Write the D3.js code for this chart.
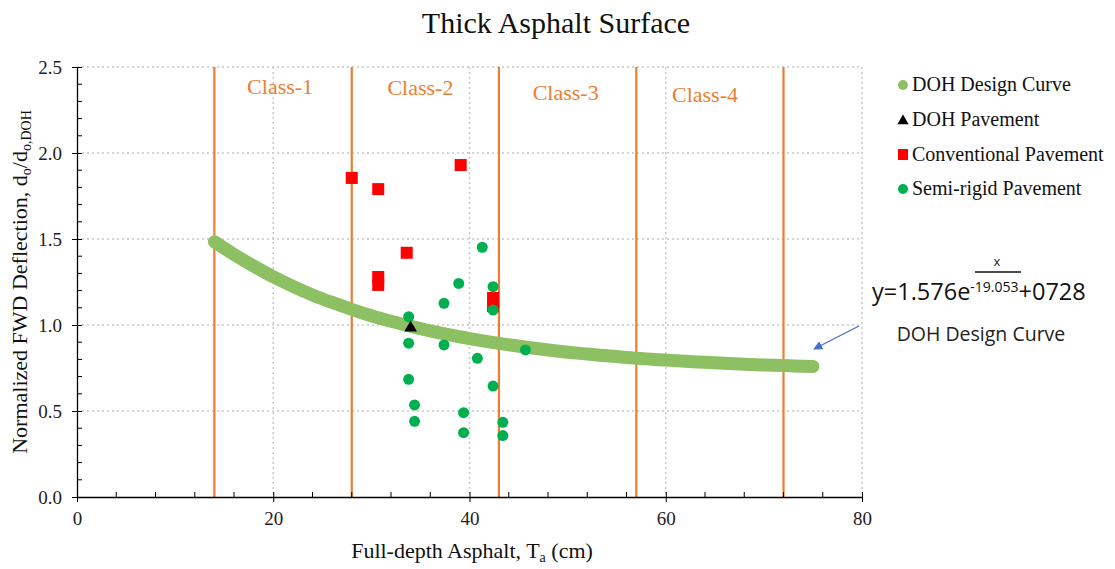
<!DOCTYPE html>
<html><head><meta charset="utf-8">
<script src="https://cdn.jsdelivr.net/npm/d3@7"></script>
<style>body{margin:0;background:#fff}svg{display:block}</style>
</head><body>
<svg id="c" width="1115" height="569"></svg>
<script>
// ---- data ----
const curveX = [14,16,18,20,22,24,26,28,30,32,34,36,38,40,42,44,46,48,50,52,54,56,58,60,62,64,66,68,70,72,74,75];
const curveY = [1.484,1.410,1.343,1.280,1.225,1.175,1.131,1.091,1.054,1.022,0.993,0.966,0.942,0.921,0.902,0.885,0.869,0.855,0.842,0.831,0.821,0.811,0.803,0.796,0.789,0.783,0.777,0.772,0.768,0.764,0.760,0.759];
const dohX = [34.0];
const dohY = [0.99];
const convX = [28.0,30.7,39.1,33.6,30.7,30.7,42.4,42.4];
const convY = [1.855,1.79,1.93,1.42,1.279,1.233,1.157,1.11];
const semiX = [41.3,38.9,42.4,37.4,42.4,33.8,33.8,37.4,40.8,45.7,33.8,42.4,34.4,34.4,39.4,39.4,43.4,43.4];
const semiY = [1.452,1.242,1.223,1.126,1.087,1.048,0.894,0.884,0.806,0.855,0.684,0.645,0.535,0.44,0.49,0.374,0.434,0.357];
const classBounds = [14,28,43,57,72];
const classNames = ["Class-1","Class-2","Class-3","Class-4"];
const classLabelX = [20.7,35.0,49.8,64.0];
const classLabelY = [2.343,2.337,2.308,2.297];
const xTicks = [0,20,40,60,80];
const yTicks = [0,0.5,1.0,1.5,2.0,2.5];
const legendNames = ["DOH Design Curve","DOH Pavement","Conventional Pavement","Semi-rigid Pavement"];

// ---- layout ----
const svg = d3.select("#c");
const L=77,R=862,T=67,B=497;
const x = d3.scaleLinear().domain([0,80]).range([L,R]);
const y = d3.scaleLinear().domain([0,2.5]).range([B,T]);
const serif = "'Liberation Serif','Times New Roman',serif";
const orange="#ED7D31", grid="#C8C8C8", curveCol="#8DC063", semiCol="#00B050";

svg.append("text").attr("x",556).attr("y",33).attr("text-anchor","middle")
  .style("font-family",serif).attr("font-size",30).attr("fill","#111").text("Thick Asphalt Surface");

// grid
const g = svg.append("g");
g.selectAll(".gy").data(yTicks.filter(d=>d>0)).join("line")
  .attr("x1",L).attr("x2",R).attr("y1",d=>y(d)).attr("y2",d=>y(d))
  .attr("stroke",grid).attr("stroke-width",1.5).attr("stroke-dasharray","2,3");
g.selectAll(".gx").data(xTicks.filter(d=>d>0)).join("line")
  .attr("y1",T).attr("y2",B).attr("x1",d=>x(d)).attr("x2",d=>x(d))
  .attr("stroke",grid).attr("stroke-width",1.5).attr("stroke-dasharray","2,3");

// class boundaries
g.selectAll(".cb").data(classBounds).join("line")
  .attr("x1",d=>x(d)).attr("x2",d=>x(d)).attr("y1",y(2.5)).attr("y2",y(0))
  .attr("stroke",orange).attr("stroke-width",2.2);
g.selectAll(".cl").data(classNames).join("text")
  .attr("x",(d,i)=>x(classLabelX[i])).attr("y",(d,i)=>y(classLabelY[i]))
  .attr("text-anchor","middle").style("font-family",serif).attr("font-size",22).attr("fill",orange).text(d=>d);

// axes
const xAxis = d3.axisBottom(x).tickValues(xTicks).tickSizeInner(5).tickSizeOuter(0).tickPadding(10);
const xa = svg.append("g").attr("transform",`translate(0,${B})`).call(xAxis);
xa.selectAll(".tick line").attr("y1",-5).attr("y2",5);
const xMinor = d3.range(0,81,4).filter(d=>d%20!==0);
xa.selectAll(".mn").data(xMinor).join("line").attr("x1",d=>x(d)).attr("x2",d=>x(d)).attr("y1",0).attr("y2",-5).attr("stroke","#000");
const yAxis = d3.axisLeft(y).tickValues(yTicks).tickFormat(d3.format(".1f")).tickSizeInner(5).tickSizeOuter(0).tickPadding(10);
const ya = svg.append("g").attr("transform",`translate(${L},0)`).call(yAxis);
ya.selectAll(".tick line").attr("x1",-5).attr("x2",5);
const yMinor = d3.range(0,26,1).map(d=>d/10).filter(d=>Math.round(d*10)%5!==0);
ya.selectAll(".mn").data(yMinor).join("line").attr("y1",d=>y(d)).attr("y2",d=>y(d)).attr("x1",0).attr("x2",5).attr("stroke","#000");
[xa,ya].forEach(a=>{a.attr("font-family",serif).attr("font-size",19);
  a.select(".domain").attr("stroke","#000").attr("stroke-width",1.3);
  a.selectAll(".tick text").style("font-family",serif).style("font-size","19px").attr("fill","#222");});

// axis labels
const xl = svg.append("text").attr("x",472).attr("y",558).attr("text-anchor","middle")
  .style("font-family",serif).attr("font-size",22).attr("fill","#111");
xl.append("tspan").text("Full-depth Asphalt, T");
xl.append("tspan").attr("font-size",14).attr("dy",4).text("a");
xl.append("tspan").attr("dy",-4).text(" (cm)");
const yl = svg.append("text").attr("transform",`translate(27,282) rotate(-90)`).attr("text-anchor","middle")
  .style("font-family",serif).attr("font-size",22).attr("fill","#111");
yl.append("tspan").text("Normalized FWD Deflection, d");
yl.append("tspan").attr("font-size",14).attr("dy",4).text("o");
yl.append("tspan").attr("dy",-4).text("/d");
yl.append("tspan").attr("font-size",14).attr("dy",4).text("o,DOH");

// curve
const line = d3.line().x((d,i)=>x(curveX[i])).y((d,i)=>y(curveY[i])).curve(d3.curveMonotoneX);
svg.append("path").attr("d",line(curveY)).attr("fill","none").attr("stroke",curveCol)
  .attr("stroke-width",13).attr("stroke-linecap","round");

// conventional
svg.selectAll(".cv").data(convX).join("rect")
  .attr("x",(d)=>x(d)-6).attr("y",(d,i)=>y(convY[i])-6).attr("width",12).attr("height",12).attr("fill","#FF0000");
// semi-rigid
svg.selectAll(".sr").data(semiX).join("circle")
  .attr("cx",d=>x(d)).attr("cy",(d,i)=>y(semiY[i])).attr("r",5.5).attr("fill",semiCol);
// DOH pavement
const tri = d3.symbol().type(d3.symbolTriangle).size(70);
svg.selectAll(".dp").data(dohX).join("path").attr("d",tri)
  .attr("transform",(d,i)=>`translate(${x(d)},${y(dohY[i])+1})`).attr("fill","#000");

// legend
const lg = svg.append("g").attr("transform","translate(903,0)");
const ly = [85,120,155,189];
legendNames.forEach((n,i)=>{
  const gy = ly[i];
  if(i===0) lg.append("circle").attr("cx",0).attr("cy",gy).attr("r",5).attr("fill",curveCol);
  if(i===1) lg.append("path").attr("d",d3.symbol().type(d3.symbolTriangle).size(55)).attr("transform",`translate(0,${gy+1})`).attr("fill","#000");
  if(i===2) lg.append("rect").attr("x",-5).attr("y",gy-6).attr("width",10).attr("height",11).attr("fill","#FF0000");
  if(i===3) lg.append("circle").attr("cx",0).attr("cy",gy).attr("r",5).attr("fill",semiCol);
  lg.append("text").attr("x",9).attr("y",gy+6).style("font-family",serif).attr("font-size",20).attr("fill","#111").text(n);
});

// equation annotation
const sans = "'Open Sans','Noto Sans',sans-serif";
svg.append("text").attr("x",997).attr("y",266).attr("text-anchor","middle").style("font-family",sans).attr("font-size",13).attr("fill","#222").text("x");
svg.append("line").attr("x1",975).attr("x2",1021).attr("y1",272).attr("y2",272).attr("stroke","#111").attr("stroke-width",1.5);
const eq = svg.append("text").attr("x",872).attr("y",300).style("font-family",sans).attr("font-size",23.5).attr("fill","#111");
eq.append("tspan").text("y=1.576e");
eq.append("tspan").attr("font-size",14).attr("dy",-8).text("-19.053");
eq.append("tspan").attr("dy",8).text("+0728");
svg.append("text").attr("x",981).attr("y",341).attr("text-anchor","middle").style("font-family",sans).attr("font-size",19.5).attr("fill","#222").text("DOH Design Curve");
// arrow
svg.append("defs").append("marker").attr("id","ah").attr("viewBox","0 0 10 10").attr("refX",9).attr("refY",5)
  .attr("markerWidth",7).attr("markerHeight",7).attr("orient","auto")
  .append("path").attr("d","M0,0L10,5L0,10z").attr("fill","#4472C4");
svg.append("line").attr("x1",859).attr("y1",326).attr("x2",814).attr("y2",349).attr("stroke","#4472C4").attr("stroke-width",1.3).attr("marker-end","url(#ah)");
</script>
</body></html>
